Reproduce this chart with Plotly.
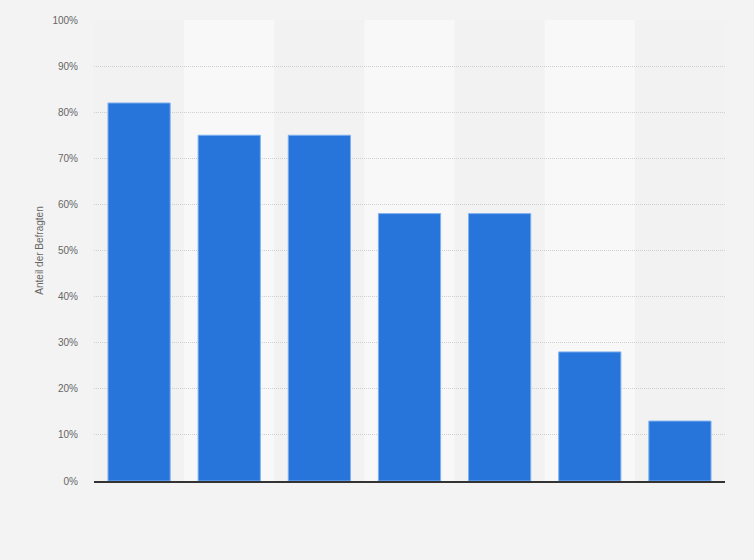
import plotly.graph_objects as go

# Survey shares per answer option (category labels are not shown in the chart)
categories = ["A", "B", "C", "D", "E", "F", "G"]
shares = [82, 75, 75, 58, 58, 28, 13]
y_ticks = list(range(0, 101, 10))
y_tick_labels = [f"{v}%" for v in y_ticks]

fig = go.Figure()

fig.add_trace(go.Bar(
    x=categories,
    y=shares,
    width=0.69,
    marker=dict(color="#2775db", line=dict(color="#7fb0ee", width=1)),
    hovertemplate="%{y}%<extra></extra>",
))

# alternating lighter column bands
for i in range(1, len(categories), 2):
    fig.add_shape(
        type="rect", xref="x", yref="paper",
        x0=i - 0.5, x1=i + 0.5, y0=0, y1=1,
        fillcolor="#f8f8f8", line=dict(width=0), layer="below",
    )

fig.update_layout(
    width=754, height=560,
    margin=dict(l=94, r=29, t=20, b=79),
    paper_bgcolor="#f3f3f3",
    plot_bgcolor="#f2f2f2",
    showlegend=False,
    font=dict(family="Liberation Sans, Arial, sans-serif", size=10, color="#666666"),
)

fig.update_xaxes(
    showticklabels=False,
    showgrid=False,
    showline=True, linecolor="#333333", linewidth=1.5,
    ticks="",
    range=[-0.5, len(categories) - 0.5],
)

fig.update_yaxes(
    range=[0, 100],
    tickvals=y_ticks,
    ticktext=y_tick_labels,
    showgrid=True, gridcolor="#cfcfcf", griddash="1px,1px", gridwidth=1,
    zeroline=False,
    ticks="outside", ticklen=13, tickcolor="rgba(0,0,0,0)",
    tickfont=dict(size=10, color="#666666"),
    title=dict(text="Anteil der Befragten", font=dict(size=10, color="#666666"), standoff=6),
)

# drop the default page margin so the figure fills the window
fig.write_html(
    "out.html",
    config={"displayModeBar": False},
    post_script="document.body.style.margin='0';document.body.style.background='#f3f3f3';",
)
